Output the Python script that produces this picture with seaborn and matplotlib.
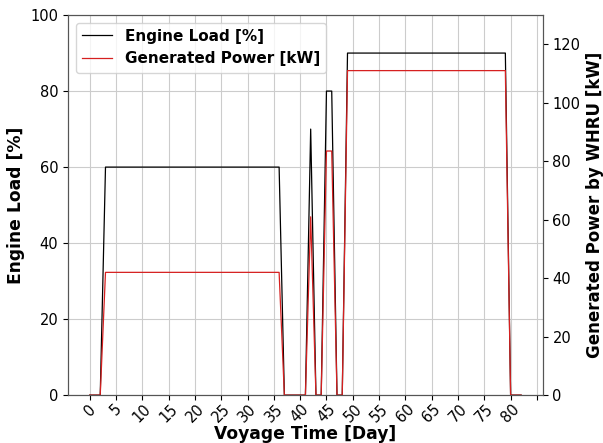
import numpy as np
import pandas as pd
import matplotlib
matplotlib.use("Agg")
import matplotlib.pyplot as plt
import seaborn as sns

# breakpoints of the voyage profile (day, load %, WHRU power kW)
days = [0, 2, 3, 36, 37, 41, 42, 43, 44, 45, 46, 47, 48, 49, 79, 80, 82]
engine_load = [0, 0, 60, 60, 0, 0, 70, 0, 0, 80, 80, 0, 0, 90, 90, 0, 0]
gen_power = [0, 0, 42, 42, 0, 0, 61, 0, 0, 83.5, 83.5, 0, 0, 111, 111, 0, 0]

df = pd.DataFrame({"day": days, "load": engine_load, "power": gen_power})

fig, ax = plt.subplots(figsize=(6.03, 4.43), dpi=100)
fig.subplots_adjust(left=0.113, right=0.900, top=0.966, bottom=0.108)

sns.lineplot(data=df, x="day", y="load", ax=ax, color="black", lw=0.9,
             label="Engine Load [%]", legend=False)
ax2 = ax.twinx()
sns.lineplot(data=df, x="day", y="power", ax=ax2, color="#d62020", lw=0.9,
             label="Generated Power [kW]", legend=False)

ax.set_ylim(0, 100)
ax2.set_ylim(0, 130)
ax.set_xticks(range(0, 90, 5))
ax.set_xticklabels([str(d) if d <= 80 else "" for d in range(0, 90, 5)],
                   rotation=45, fontsize=10.5)
ax.tick_params(axis="x", pad=1)
ax.tick_params(axis="y", labelsize=10.5)
ax2.tick_params(axis="y", labelsize=10.5)
ax.grid(True, color="#cccccc", lw=0.8)
ax.set_axisbelow(True)

ax.set_xlabel("Voyage Time [Day]", fontsize=12.3, fontweight="bold", labelpad=0)
ax.set_ylabel("Engine Load [%]", fontsize=12.3, fontweight="bold")
ax2.set_ylabel("Generated Power by WHRU [kW]", fontsize=12, fontweight="bold")

for a in (ax, ax2):
    for s in a.spines.values():
        s.set_color("#555555")

h1, l1 = ax.get_legend_handles_labels()
h2, l2 = ax2.get_legend_handles_labels()
ax.legend(h1 + h2, l1 + l2, loc="upper left", prop={"weight": "bold", "size": 11})

fig.savefig("out.png", dpi=100)
